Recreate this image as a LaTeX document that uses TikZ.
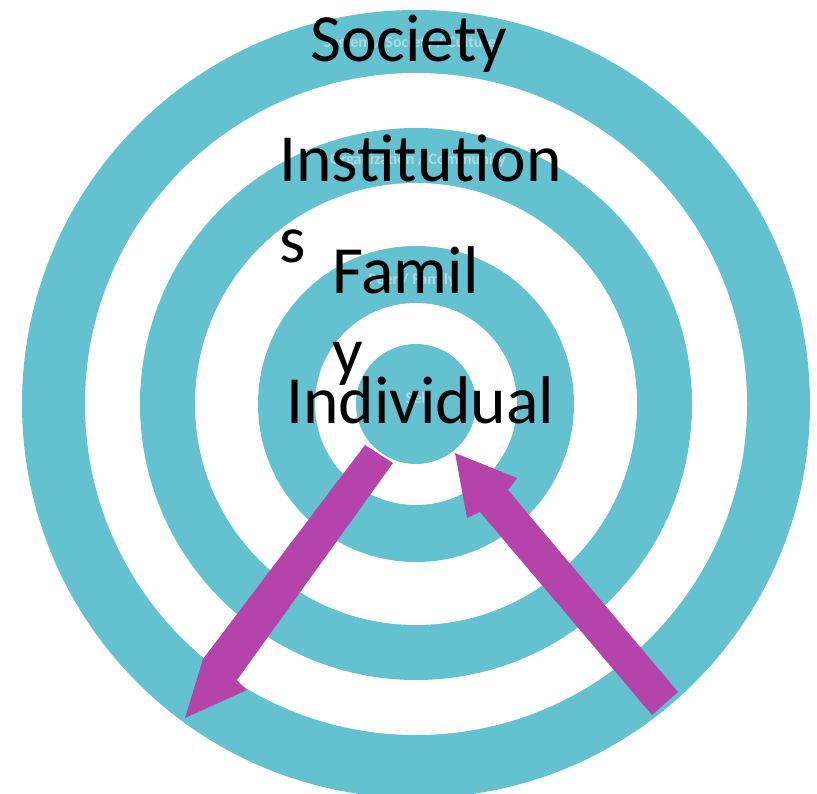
\documentclass[tikz,border=0pt]{standalone}
\usepackage{fontspec}
\setmainfont{Carlito}
\definecolor{ringteal}{RGB}{100,193,208}
\definecolor{arrowmag}{RGB}{180,68,170}
\definecolor{ghost}{RGB}{172,220,230}
\begin{document}
\begin{tikzpicture}[x=1pt,y=-1pt,
  bigtext/.style={anchor=base west,inner sep=0pt,align=left,text=black,
    font=\fontsize{67.5}{81}\selectfont},
  ghosttext/.style={inner sep=0pt,text=ghost,font=\bfseries\fontsize{16}{18}\selectfont},
  blockarrow/.style={fill=arrowmag,draw=none}]
\useasboundingbox (0,0) rectangle (817,794);
\clip (0,0) rectangle (817,794);
\fill[white] (0,0) rectangle (817,794);
\coordinate (c) at (416,404);
% rings
\fill[ringteal] (c) circle[radius=394pt];
\fill[white] (c) circle[radius=331pt];
\fill[ringteal] (c) circle[radius=276pt];
\fill[white] (c) circle[radius=221pt];
\fill[ringteal] (c) circle[radius=158pt];
\fill[white] (c) circle[radius=101pt];
\fill[ringteal] (c) circle[radius=60pt];
% faint ring labels
\node[ghosttext] (g1) at (410,43) {System / Society / Culture};
\node[ghosttext] (g2) at (418,160) {Organization / Community};
\node[ghosttext] (g3) at (412,280) {Peer / Family};
\node[ghosttext] (g4) at (418,398) {Self};
% arrows
\fill[blockarrow] (365,445) -- (393,463) -- (237,680) -- (247,690) -- (185,718) -- (203,659) -- cycle;
\fill[blockarrow] (455,453) -- (517,478) -- (508,490) -- (678,692) -- (652,715) -- (480,512) -- (467,518) -- cycle;
% labels
\node[bigtext] (society) at (310,62) {Society};
\node[bigtext] (inst) at (279,263) {Institution\\s};
\node[bigtext] (family) at (332,374) {Famil\\y};
\node[bigtext] (indiv) at (286,423) {Individual};
\end{tikzpicture}
\end{document}
